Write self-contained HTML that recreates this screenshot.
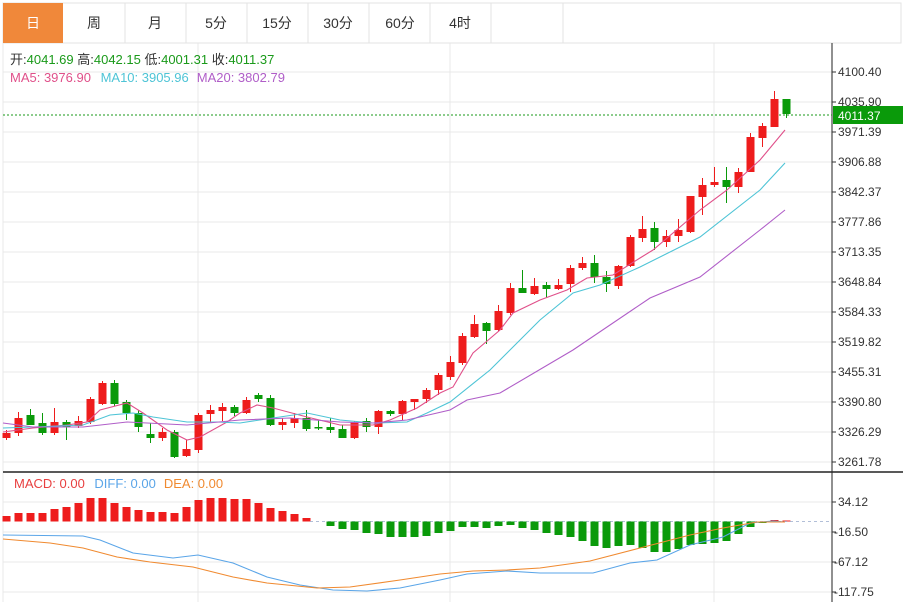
<!DOCTYPE html>
<html><head><meta charset="utf-8"><style>
body{margin:0;background:#fff;width:908px;height:602px;overflow:hidden;font-family:"Liberation Sans","Noto Sans CJK SC",sans-serif}
</style></head><body>
<svg width="908" height="602" xmlns="http://www.w3.org/2000/svg" font-family="Liberation Sans, Noto Sans CJK SC, sans-serif">
<rect x="0" y="0" width="908" height="602" fill="#fff"/>
<rect x="3" y="3" width="898" height="40" fill="#fff" stroke="#e3e3e3"/>
<rect x="3" y="3" width="60" height="40" fill="#f0883a"/>
<g stroke="#e3e3e3"><line x1="125" y1="3" x2="125" y2="43"/><line x1="186" y1="3" x2="186" y2="43"/><line x1="247" y1="3" x2="247" y2="43"/><line x1="308" y1="3" x2="308" y2="43"/><line x1="369" y1="3" x2="369" y2="43"/><line x1="430" y1="3" x2="430" y2="43"/><line x1="491" y1="3" x2="491" y2="43"/><line x1="563" y1="3" x2="563" y2="43"/></g>
<g font-size="14" fill="#333" text-anchor="middle">
<text x="33" y="28" fill="#fff">日</text><text x="94" y="28">周</text><text x="155" y="28">月</text><text x="216" y="28">5分</text><text x="277" y="28">15分</text><text x="338" y="28">30分</text><text x="400" y="28">60分</text><text x="460" y="28">4时</text>
</g>
<g stroke="#e8e8e8" stroke-width="1">
<line x1="3" y1="72" x2="832" y2="72"/><line x1="3" y1="102" x2="832" y2="102"/><line x1="3" y1="132" x2="832" y2="132"/><line x1="3" y1="162" x2="832" y2="162"/><line x1="3" y1="192" x2="832" y2="192"/><line x1="3" y1="222" x2="832" y2="222"/><line x1="3" y1="252" x2="832" y2="252"/><line x1="3" y1="282" x2="832" y2="282"/><line x1="3" y1="312" x2="832" y2="312"/><line x1="3" y1="342" x2="832" y2="342"/><line x1="3" y1="372" x2="832" y2="372"/><line x1="3" y1="402" x2="832" y2="402"/><line x1="3" y1="432" x2="832" y2="432"/><line x1="3" y1="462" x2="832" y2="462"/>
<line x1="3" y1="502" x2="832" y2="502"/><line x1="3" y1="532" x2="832" y2="532"/><line x1="3" y1="562" x2="832" y2="562"/><line x1="3" y1="592" x2="832" y2="592"/>
<line x1="3" y1="43" x2="3" y2="602"/><line x1="198" y1="43" x2="198" y2="602"/><line x1="450" y1="43" x2="450" y2="602"/><line x1="714" y1="43" x2="714" y2="602"/>
</g>
<line x1="832" y1="43" x2="832" y2="602" stroke="#222"/>
<line x1="3" y1="472" x2="903" y2="472" stroke="#222" stroke-width="1.5"/>
<g font-size="12" fill="#333">
<path stroke="#333" d="M832 72h4M832 102h4M832 132h4M832 162h4M832 192h4M832 222h4M832 252h4M832 282h4M832 312h4M832 342h4M832 372h4M832 402h4M832 432h4M832 462h4M832 502h4M832 532h4M832 562h4M832 592h4"/>
<text x="838" y="76">4100.40</text><text x="838" y="106">4035.90</text><text x="838" y="136">3971.39</text><text x="838" y="166">3906.88</text><text x="838" y="196">3842.37</text><text x="838" y="226">3777.86</text><text x="838" y="256">3713.35</text><text x="838" y="286">3648.84</text><text x="838" y="316">3584.33</text><text x="838" y="346">3519.82</text><text x="838" y="376">3455.31</text><text x="838" y="406">3390.80</text><text x="838" y="436">3326.29</text><text x="838" y="466">3261.78</text>
<text x="838" y="506">34.12</text><text x="834" y="536">-16.50</text><text x="834" y="566">-67.12</text><text x="834" y="596">-117.75</text>
</g>
<line x1="3" y1="115" x2="832" y2="115" stroke="#1a9a1a" stroke-dasharray="2,2"/>
<rect x="833" y="106" width="70" height="18" fill="#0a9a0a"/>
<text x="838" y="120" font-size="12" fill="#fff">4011.37</text>
<g font-size="13">
<text x="10" y="64" fill="#333">开:<tspan fill="#1a9a1a">4041.69</tspan>  高:<tspan fill="#1a9a1a">4042.15</tspan>  低:<tspan fill="#1a9a1a">4001.31</tspan>  收:<tspan fill="#1a9a1a">4011.37</tspan></text>
<text x="10" y="82" fill="#e0508a">MA5: 3976.90 <tspan fill="#4ec4d6" dx="6">MA10: 3905.96</tspan><tspan fill="#b05ec8" dx="8">MA20: 3802.79</tspan></text>
<text x="14" y="488" fill="#e84040">MACD: 0.00 <tspan fill="#5aa5e8" dx="6">DIFF: 0.00</tspan><tspan fill="#f08a30" dx="8">DEA: 0.00</tspan></text>
</g>
<path stroke="#ee1c1c" fill="none" d="M6.5 430V440M18.5 412V436M54.5 408V435M78.5 416V428M90.5 397V424M102.5 381V405M162.5 428V441M186.5 440V457M198.5 413V453M210.5 405V422M222.5 403V421M246.5 397V414M282.5 418V430M294.5 413V428M354.5 421V439M378.5 410V434M402.5 400V420M414.5 399V410M426.5 388V403M438.5 373V395M450.5 356V380M462.5 333V365M474.5 315V338M498.5 305V331M510.5 283V315M534.5 278V295M558.5 279V290M570.5 265V292M582.5 257V270M618.5 265V289M630.5 235V267M642.5 216V242M666.5 230V247M678.5 219V242M690.5 196V233M702.5 178V215M714.5 167V187M738.5 168V193M750.5 133V172M762.5 123V147M774.5 91V127"/>
<g fill="#ee1c1c">
<rect x="2.5" y="433" width="8" height="5"/><rect x="14.5" y="418" width="8" height="15"/><rect x="50.5" y="422" width="8" height="11"/><rect x="74.5" y="421" width="8" height="5"/><rect x="86.5" y="399" width="8" height="23"/><rect x="98.5" y="383" width="8" height="21"/><rect x="158.5" y="432" width="8" height="6"/><rect x="182.5" y="449" width="8" height="7"/><rect x="194.5" y="415" width="8" height="35"/><rect x="206.5" y="410" width="8" height="4"/><rect x="218.5" y="407" width="8" height="4"/><rect x="242.5" y="400" width="8" height="13"/><rect x="278.5" y="422" width="8" height="3"/><rect x="290.5" y="418" width="8" height="5"/><rect x="350.5" y="422" width="8" height="16"/><rect x="374.5" y="411" width="8" height="16"/><rect x="398.5" y="401" width="8" height="13"/><rect x="410.5" y="399" width="8" height="3"/><rect x="422.5" y="390" width="8" height="9"/><rect x="434.5" y="375" width="8" height="15"/><rect x="446.5" y="362" width="8" height="15"/><rect x="458.5" y="336" width="8" height="27"/><rect x="470.5" y="324" width="8" height="13"/><rect x="494.5" y="311" width="8" height="19"/><rect x="506.5" y="288" width="8" height="25"/><rect x="530.5" y="286" width="8" height="8"/><rect x="554.5" y="285" width="8" height="4"/><rect x="566.5" y="268" width="8" height="16"/><rect x="578.5" y="263" width="8" height="5"/><rect x="614.5" y="266" width="8" height="20"/><rect x="626.5" y="237" width="8" height="29"/><rect x="638.5" y="229" width="8" height="9"/><rect x="662.5" y="236" width="8" height="6"/><rect x="674.5" y="230" width="8" height="6"/><rect x="686.5" y="196" width="8" height="36"/><rect x="698.5" y="185" width="8" height="12"/><rect x="710.5" y="182" width="8" height="3"/><rect x="734.5" y="172" width="8" height="15"/><rect x="746.5" y="137" width="8" height="35"/><rect x="758.5" y="126" width="8" height="12"/><rect x="770.5" y="99" width="8" height="28"/>
</g>
<path stroke="#0a9a0a" fill="none" d="M30.5 409V425M42.5 413V435M66.5 420V440M114.5 380V406M126.5 400V420M138.5 410V432M150.5 423V443M174.5 430V458M234.5 405V416M258.5 393V402M270.5 395V426M306.5 410V431M318.5 420V430M330.5 418V433M342.5 425V438M366.5 418V432M390.5 410V416M486.5 322V344M522.5 270V293M546.5 282V298M594.5 255V283M606.5 271V292M654.5 222V250M726.5 167V203M786.5 99V118"/>
<g fill="#0a9a0a">
<rect x="26.5" y="415" width="8" height="10"/><rect x="38.5" y="423" width="8" height="10"/><rect x="62.5" y="422" width="8" height="5"/><rect x="110.5" y="383" width="8" height="21"/><rect x="122.5" y="402" width="8" height="11"/><rect x="134.5" y="413" width="8" height="14"/><rect x="146.5" y="434" width="8" height="4"/><rect x="170.5" y="432" width="8" height="25"/><rect x="230.5" y="407" width="8" height="6"/><rect x="254.5" y="395" width="8" height="4"/><rect x="266.5" y="398" width="8" height="27"/><rect x="302.5" y="418" width="8" height="11"/><rect x="314.5" y="427" width="8" height="1.5"/><rect x="326.5" y="427" width="8" height="3"/><rect x="338.5" y="429" width="8" height="9"/><rect x="362.5" y="421" width="8" height="6"/><rect x="386.5" y="411" width="8" height="3"/><rect x="482.5" y="323" width="8" height="8"/><rect x="518.5" y="288" width="8" height="5"/><rect x="542.5" y="285" width="8" height="4"/><rect x="590.5" y="263" width="8" height="14"/><rect x="602.5" y="277" width="8" height="7"/><rect x="650.5" y="228" width="8" height="14"/><rect x="722.5" y="180" width="8" height="7"/><rect x="782.5" y="99" width="8" height="15"/>
</g>
<path fill="#ee1c1c" d="M2.5 521.5V516h8V521.5ZM14.5 521.5V513h8V521.5ZM26.5 521.5V513h8V521.5ZM38.5 521.5V513h8V521.5ZM50.5 521.5V509h8V521.5ZM62.5 521.5V507h8V521.5ZM74.5 521.5V503h8V521.5ZM86.5 521.5V498h8V521.5ZM98.5 521.5V498h8V521.5ZM110.5 521.5V503h8V521.5ZM122.5 521.5V507h8V521.5ZM134.5 521.5V510h8V521.5ZM146.5 521.5V512h8V521.5ZM158.5 521.5V512h8V521.5ZM170.5 521.5V513h8V521.5ZM182.5 521.5V507h8V521.5ZM194.5 521.5V500h8V521.5ZM206.5 521.5V498h8V521.5ZM218.5 521.5V498h8V521.5ZM230.5 521.5V499h8V521.5ZM242.5 521.5V499h8V521.5ZM254.5 521.5V503h8V521.5ZM266.5 521.5V508h8V521.5ZM278.5 521.5V511h8V521.5ZM290.5 521.5V514h8V521.5ZM302.5 521.5V518h8V521.5ZM770.5 521.5V520h8V521.5ZM782.5 521.5V520.5h8V521.5Z"/>
<line x1="310" y1="521.5" x2="832" y2="521.5" stroke="#9ac" stroke-dasharray="3,3" stroke-width="0.8"/>
<path fill="#0a9a0a" d="M326.5 521.5V526h8V521.5ZM338.5 521.5V529h8V521.5ZM350.5 521.5V530h8V521.5ZM362.5 521.5V533h8V521.5ZM374.5 521.5V534h8V521.5ZM386.5 521.5V537h8V521.5ZM398.5 521.5V537h8V521.5ZM410.5 521.5V537h8V521.5ZM422.5 521.5V536h8V521.5ZM434.5 521.5V533h8V521.5ZM446.5 521.5V531h8V521.5ZM458.5 521.5V527h8V521.5ZM470.5 521.5V527h8V521.5ZM482.5 521.5V528h8V521.5ZM494.5 521.5V526h8V521.5ZM506.5 521.5V525h8V521.5ZM518.5 521.5V528h8V521.5ZM530.5 521.5V530h8V521.5ZM542.5 521.5V533h8V521.5ZM554.5 521.5V535h8V521.5ZM566.5 521.5V537h8V521.5ZM578.5 521.5V541h8V521.5ZM590.5 521.5V546h8V521.5ZM602.5 521.5V548h8V521.5ZM614.5 521.5V546h8V521.5ZM626.5 521.5V545h8V521.5ZM638.5 521.5V548h8V521.5ZM650.5 521.5V552h8V521.5ZM662.5 521.5V552h8V521.5ZM674.5 521.5V549h8V521.5ZM686.5 521.5V545h8V521.5ZM698.5 521.5V544h8V521.5ZM710.5 521.5V543h8V521.5ZM722.5 521.5V541h8V521.5ZM734.5 521.5V534h8V521.5ZM746.5 521.5V527h8V521.5ZM758.5 521.5V523h8V521.5Z"/>
<g fill="none" stroke-width="1.1">
<polyline stroke="#e0508a" points="3,432 33,428 67,425 87,422 100,410 127,403 143,413 167,430 187,440 200,437 227,422 240,413 257,405 273,408 307,417 340,425 373,425 390,420 417,408 440,393 453,387 473,353 500,330 513,313 540,300 567,290 587,278 613,275 640,258 653,250 700,210 727,190 760,160 785,130"/>
<polyline stroke="#4ec4d6" points="3,428 33,427 83,425 110,415 133,413 153,417 187,422 217,422 240,423 273,418 307,413 340,420 373,423 407,422 427,413 450,402 490,370 500,360 540,320 573,293 600,285 640,267 700,237 760,190 785,163"/>
<polyline stroke="#b05ec8" points="3,423 33,427 83,427 127,422 187,425 240,420 290,418 340,422 373,423 407,420 450,410 467,400 500,393 573,350 650,298 700,277 760,230 785,210"/>
<polyline stroke="#5aa5e8" points="3,535 83,536 100,540 133,553 173,558 198,555 233,563 267,577 300,585 333,590 367,591 400,588 440,580 467,574 507,571 540,573 593,573 630,563 657,560 690,545 723,537 750,523 773,521 785,522"/>
<polyline stroke="#f08a30" points="3,539 50,543 83,548 117,557 150,562 193,567 233,577 267,583 317,588 350,587 400,580 440,574 473,571 507,570 540,568 590,561 640,548 690,535 723,528 757,522 785,522"/>
</g>
</svg>
</body></html>
